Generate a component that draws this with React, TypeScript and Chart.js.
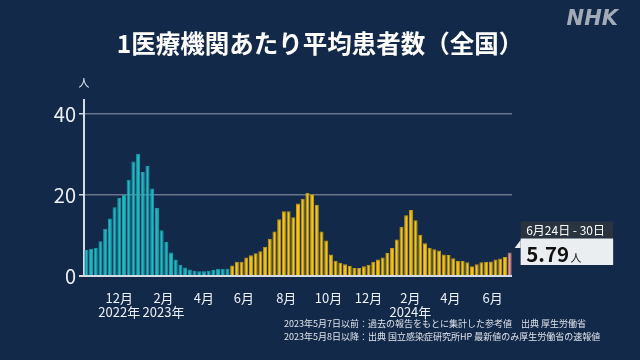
import { useEffect, useRef } from "react";
import { Chart, registerables } from "chart.js";

Chart.register(...registerables);

// Weekly values (persons per medical institution)
// Oct 2022 – May 7 2023 (reference values, MHLW)
const cyanValues = [
  6.4, 6.75, 7.0, 8.6, 11.7, 14.2, 17.0, 19.3, 20.1, 23.8, 28.3, 30.2, 25.7, 27.2, 21.6, 16.8,
  11.3, 8.4, 5.8, 4.1, 2.8, 2.1, 1.6, 1.3, 1.15, 1.15, 1.3, 1.5, 1.8, 1.8, 1.8,
];
// May 8 2023 – June 23 2024 (NIID)
const yellowValues = [
  2.6, 3.5, 3.5, 4.6, 5.1, 5.6, 6.1, 7.2, 9.2, 11.0, 14.0, 16.0, 16.0, 14.5, 17.9, 19.1, 20.6,
  20.2, 17.6, 11.0, 8.8, 5.3, 3.8, 3.3, 2.9, 2.5, 2.0, 2.0, 2.4, 2.8, 3.5, 4.1, 4.6, 5.7, 6.9,
  9.0, 12.2, 15.0, 16.3, 13.8, 10.2, 8.1, 7.0, 6.6, 6.3, 5.3, 5.2, 4.4, 3.8, 3.7, 3.4, 2.4, 2.9,
  3.4, 3.5, 3.6, 4.1, 4.3, 4.7,
];
// Latest week (June 24 – 30, 2024)
const latestValues = [5.79];

// Month tick labels (week-index positions on the x axis)
const xTickPositions = [7, 16.4, 25, 33.5, 42.5, 51.5, 60, 68.9, 77.4, 86.4];
const xTickLabels: (string | string[])[] = [
  ["12月", "2022年"],
  ["2月", "2023年"],
  "4月",
  "6月",
  "8月",
  "10月",
  "12月",
  ["2月", "2024年"],
  "4月",
  "6月",
];
const yTickValues = [0, 20, 40];

const titleText = "1医療機関あたり平均患者数（全国）";
const unitText = "人";
const calloutPeriod = "6月24日 - 30日";
const calloutValue = "5.79";
const notes = [
  "2023年5月7日以前：過去の報告をもとに集計した参考値　出典 厚生労働省",
  "2023年5月8日以降：出典 国立感染症研究所HP 最新値のみ厚生労働省の速報値",
];

const BG = "#13294a";
const CYAN = "#22b9c3";
const CYAN_EDGE = "#17a0ab";
const YELLOW = "#f4c51c";
const YELLOW_EDGE = "#c89b0c";
const RED = "#e39a98";
const RED_EDGE = "#c97a78";
const AXIS = "#d5dbe2";
const GRID = "#66758a";
const FONT = "'Noto Sans CJK JP', 'Noto Sans', sans-serif";

export default function App() {
  const ref = useRef<HTMLCanvasElement>(null);

  useEffect(() => {
    document.body.style.margin = "0";
    const all = [...cyanValues, ...yellowValues, ...latestValues];
    const nC = cyanValues.length;
    const nY = yellowValues.length;
    const data = all.map((y, x) => ({ x, y }));
    const fills = all.map((_, i) => (i < nC ? CYAN : i < nC + nY ? YELLOW : RED));
    const edges = all.map((_, i) => (i < nC ? CYAN_EDGE : i < nC + nY ? YELLOW_EDGE : RED_EDGE));

    const deco = {
      id: "deco",
      beforeDraw(c: any) {
        const ctx = c.ctx;
        ctx.save();
        ctx.fillStyle = BG;
        ctx.fillRect(0, 0, c.width, c.height);
        ctx.restore();
      },
      afterDraw(c: any) {
        const ctx = c.ctx;
        const area = c.chartArea;
        ctx.save();
        // title
        ctx.fillStyle = "#ffffff";
        ctx.font = `bold 24.5px ${FONT}`;
        ctx.textAlign = "center";
        ctx.textBaseline = "middle";
        ctx.fillText(titleText, 320, 44);
        // NHK
        ctx.fillStyle = "#a3abb6";
        ctx.font = "bold italic 21px 'DejaVu Sans', sans-serif";
        ctx.textAlign = "right";
        ctx.textBaseline = "alphabetic";
        ctx.fillText("NHK", 618, 25);
        // unit
        ctx.fillStyle = "#e8ecf0";
        ctx.font = `11px ${FONT}`;
        ctx.textAlign = "center";
        ctx.textBaseline = "middle";
        ctx.fillText(unitText, area.left, 83);
        // notes
        ctx.fillStyle = "#dfe3ea";
        ctx.font = `9px ${FONT}`;
        ctx.textAlign = "left";
        notes.forEach((t, i) => ctx.fillText(t, 284, 324 + i * 13));
        // callout
        const meta = c.getDatasetMeta(0);
        const last = meta.data[meta.data.length - 1];
        const bx = last.x + 11;
        ctx.fillStyle = "#eaeef1";
        ctx.beginPath();
        ctx.moveTo(bx, 240);
        ctx.lineTo(bx - 6, 248);
        ctx.lineTo(bx, 248);
        ctx.closePath();
        ctx.fill();
        ctx.fillStyle = "#2a3440";
        ctx.fillRect(bx, 221.5, 92.5, 17);
        ctx.fillStyle = "#eaeef1";
        ctx.fillRect(bx, 238.5, 92.5, 26.5);
        ctx.fillStyle = "#ffffff";
        ctx.font = `12px ${FONT}`;
        ctx.textBaseline = "middle";
        ctx.fillText(calloutPeriod, bx + 5.5, 230.5);
        ctx.fillStyle = "#111111";
        ctx.font = `bold 20.5px ${FONT}`;
        ctx.textBaseline = "alphabetic";
        ctx.fillText(calloutValue, bx + 5.5, 262);
        const w = ctx.measureText(calloutValue).width;
        ctx.font = `11px ${FONT}`;
        ctx.fillText(unitText, bx + 7 + w, 262);
        ctx.restore();
      },
    };

    const chart = new Chart(ref.current!, {
      type: "bar",
      data: {
        datasets: [
          {
            data: data as any,
            backgroundColor: fills,
            borderColor: edges,
            borderWidth: 1,
            barPercentage: 0.85,
            categoryPercentage: 1,
          },
        ],
      },
      options: {
        animation: false,
        responsive: false,
        layout: { padding: { left: 0, right: 128, top: 100, bottom: 0 } },
        plugins: { legend: { display: false }, tooltip: { enabled: false }, title: { display: false } },
        scales: {
          x: {
            type: "linear",
            min: -0.5,
            max: 90.5,
            offset: false,
            grid: { display: false },
            border: { display: false },
            afterBuildTicks: (s: any) => {
              s.ticks = xTickPositions.map((v) => ({ value: v }));
            },
            afterFit: (s: any) => {
              s.height = 84;
            },
            ticks: {
              autoSkip: false,
              maxRotation: 0,
              padding: 7,
              color: "#eef1f5",
              font: { size: 13, family: FONT, lineHeight: 1.1 },
              callback: (_v: any, i: number) => xTickLabels[i],
            },
          },
          y: {
            min: 0,
            max: 43.5,
            afterBuildTicks: (s: any) => {
              s.ticks = yTickValues.map((v) => ({ value: v }));
            },
            afterFit: (s: any) => {
              s.width = 84;
            },
            border: { display: true, color: AXIS, width: 2 },
            grid: {
              color: (ctx: any) => (ctx.tick && ctx.tick.value === 0 ? AXIS : GRID),
              lineWidth: (ctx: any) => (ctx.tick && ctx.tick.value === 0 ? 2 : 1.5),
              tickColor: AXIS,
              tickLength: 5,
              drawTicks: true,
            },
            ticks: {
              padding: 3,
              color: "#eef1f5",
              font: { size: 20, family: FONT },
            },
          },
        },
      },
      plugins: [deco],
    } as any);
    return () => chart.destroy();
  }, []);

  return (
    <div style={{ position: "absolute", left: 0, top: 0, width: 640, height: 360, background: BG }}>
      <canvas ref={ref} width={640} height={360} style={{ display: "block" }} />
    </div>
  );
}
